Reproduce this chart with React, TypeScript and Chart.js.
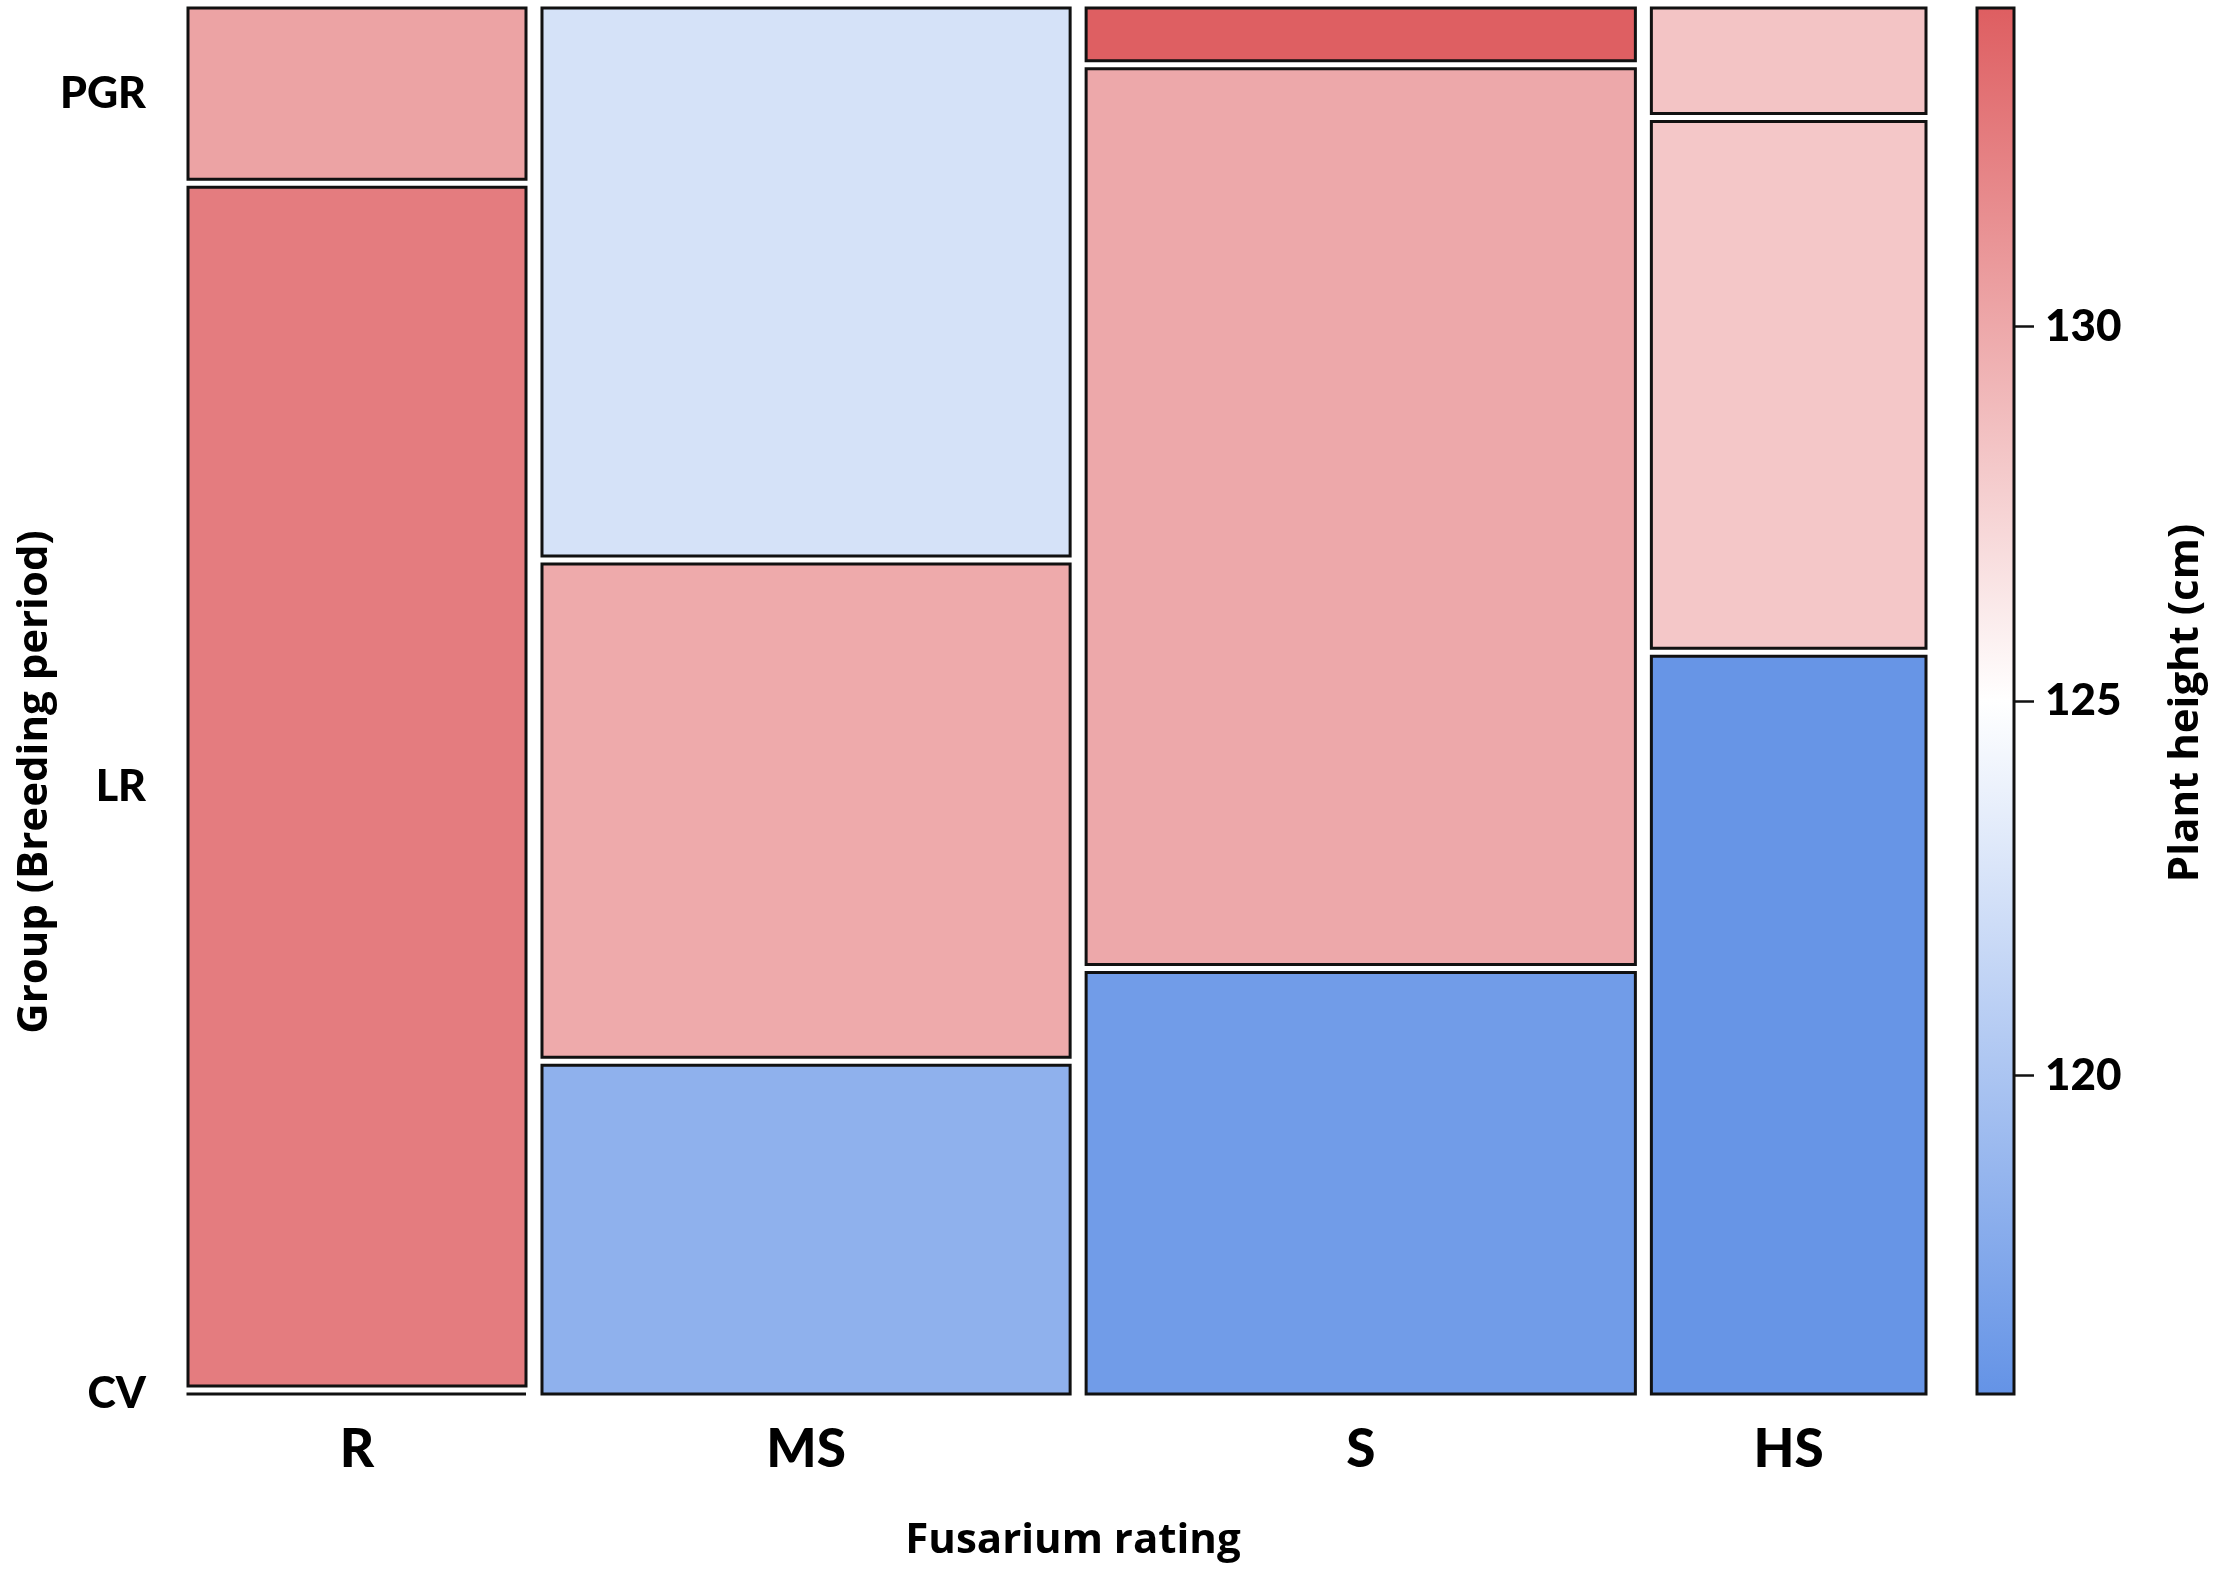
import React, { useEffect, useRef } from 'react';
import { Chart, registerables } from 'chart.js';

Chart.register(...registerables);

// ---------- data ----------
const ratings = ['R', 'MS', 'S', 'HS'];
const groups = ['CV', 'LR', 'PGR']; // bottom to top
const countCV = [0, 6, 8, 7];
const countLR = [14, 9, 17, 5];
const countPGR = [2, 10, 1, 1];
const heightCV = [null, 118.3, 116.5, 115.9];
const heightLR = [132.5, 129.9, 130.0, 128.2];
const heightPGR = [130.3, 122.5, 134.2, 128.4];
const colorbarRange = [115.75, 134.25];
const colorbarMid = 125;
const colorbarTicks = [120, 125, 130];

// ---------- styles ----------
const W = 2217;
const H = 1576;
const XGAP = 0.0092;
const YGAP = 0.00577;
const LOW = [100, 147, 230];
const MID = [255, 255, 255];
const HIGH = [222, 94, 97];
const EDGE = '#111111';
const TICK_FONT = 'Lato';
const TICK_WEIGHT = 900;
const TITLE_FONT = '"Open Sans"';

function mix(a: number[], b: number[], t: number) {
  const c = a.map((v, i) => Math.round(v + (b[i] - v) * t));
  return `rgb(${c[0]},${c[1]},${c[2]})`;
}
function colorFor(v: number | null) {
  if (v == null) return 'rgba(0,0,0,0)';
  const [lo, hi] = colorbarRange;
  if (v <= colorbarMid) return mix(MID, LOW, Math.min(1, (colorbarMid - v) / (colorbarMid - lo)));
  return mix(MID, HIGH, Math.min(1, (v - colorbarMid) / (hi - colorbarMid)));
}

const counts = [countCV, countLR, countPGR];
const heights = [heightCV, heightLR, heightPGR];
const colTotals = ratings.map((_, i) => counts.reduce((s, c) => s + c[i], 0));
const total = colTotals.reduce((a, b) => a + b, 0);

type Tile = { x0: number; x1: number; y0: number; y1: number; color: string };
const tiles: Tile[] = [];
const colCenters: number[] = [];
const firstColCenters: number[] = [];
{
  let x = 0;
  ratings.forEach((_, i) => {
    const w = ((1 - (ratings.length - 1) * XGAP) * colTotals[i]) / total;
    colCenters.push(x + w / 2);
    let y = 0;
    groups.forEach((__, g) => {
      const h = ((1 - (groups.length - 1) * YGAP) * counts[g][i]) / colTotals[i];
      tiles.push({ x0: x, x1: x + w, y0: y, y1: y + h, color: colorFor(heights[g][i]) });
      if (i === 0) firstColCenters.push(y + h / 2);
      y += h + YGAP;
    });
    x += w + XGAP;
  });
}

const datasets = tiles.map((t) => ({
  data: [
    { x: t.x0, y: t.y0 },
    { x: t.x1, y: t.y0 },
    { x: t.x1, y: t.y1 },
    { x: t.x0, y: t.y1 },
    { x: t.x0, y: t.y0 },
  ],
  showLine: true,
  fill: 'shape',
  backgroundColor: t.color,
  borderColor: EDGE,
  borderWidth: 3,
  borderJoinStyle: 'miter',
  borderCapStyle: 'square',
  pointRadius: 0,
  pointHoverRadius: 0,
  tension: 0,
  clip: false,
}));

const CB_WIDTH = 37;

const decorPlugin = {
  id: 'decor',
  afterDraw(chart: any) {
    const ctx = chart.ctx as CanvasRenderingContext2D;
    const cb = chart.scales.cb;
    const x1 = cb.left;
    const x0 = x1 - CB_WIDTH;
    const yTop = cb.getPixelForValue(colorbarRange[1]);
    const yBot = cb.getPixelForValue(colorbarRange[0]);
    const grad = ctx.createLinearGradient(0, yBot, 0, yTop);
    grad.addColorStop(0, mix(LOW, LOW, 0));
    grad.addColorStop((colorbarMid - colorbarRange[0]) / (colorbarRange[1] - colorbarRange[0]), mix(MID, MID, 0));
    grad.addColorStop(1, mix(HIGH, HIGH, 0));
    ctx.save();
    ctx.fillStyle = grad;
    ctx.fillRect(x0, yTop, CB_WIDTH, yBot - yTop);
    ctx.lineWidth = 3;
    ctx.strokeStyle = EDGE;
    ctx.strokeRect(x0, yTop, CB_WIDTH, yBot - yTop);

    // axis titles
    ctx.fillStyle = '#000';
    ctx.font = `bold 42px ${TITLE_FONT}`;
    ctx.textAlign = 'center';
    ctx.textBaseline = 'middle';
    ctx.fillText('Fusarium rating', 1073, 1541);
    ctx.save();
    ctx.translate(35, 782);
    ctx.rotate(-Math.PI / 2);
    ctx.fillText('Group (Breeding period)', 0, 0);
    ctx.restore();
    ctx.save();
    ctx.translate(2186, 703);
    ctx.rotate(-Math.PI / 2);
    ctx.fillText('Plant height (cm)', 0, 0);
    ctx.restore();
    ctx.restore();
  },
};

function noVPad(s: any) {
  s.paddingTop = 0;
  s.paddingBottom = 0;
}

export default function App() {
  const ref = useRef<HTMLCanvasElement>(null);
  useEffect(() => {
    const chart = new Chart(ref.current as HTMLCanvasElement, {
      type: 'scatter',
      data: { datasets: datasets as any },
      options: {
        animation: false,
        responsive: false,
        events: [],
        layout: { padding: { top: 8, left: 0, right: 0, bottom: 0 } },
        plugins: { legend: { display: false }, tooltip: { enabled: false } },
        scales: {
          x: {
            type: 'linear',
            position: 'bottom',
            min: 0,
            max: 1,
            grid: { display: false },
            border: { display: false },
            afterBuildTicks: (s: any) => {
              s.ticks = colCenters.map((v) => ({ value: v }));
            },
            afterFit: (s: any) => {
              s.height = 182;
              s.paddingLeft = 0;
              s.paddingRight = 0;
            },
            ticks: {
              autoSkip: false,
              maxRotation: 0,
              minRotation: 0,
              padding: 16,
              color: '#000',
              font: { family: TICK_FONT, size: 53, weight: TICK_WEIGHT },
              callback: (_v: any, i: number) => ratings[i],
            },
          },
          y: {
            type: 'linear',
            position: 'left',
            min: 0,
            max: 1,
            grid: { display: false },
            border: { display: false },
            afterBuildTicks: (s: any) => {
              s.ticks = firstColCenters.map((v) => ({ value: v }));
            },
            afterFit: (s: any) => {
              s.width = 188;
              noVPad(s);
            },
            ticks: {
              autoSkip: false,
              padding: 34,
              color: '#000',
              font: { family: TICK_FONT, size: 43, weight: TICK_WEIGHT },
              callback: (_v: any, i: number) => groups[i],
            },
          },
          pad: {
            type: 'linear',
            position: 'right',
            weight: 0,
            min: 0,
            max: 1,
            grid: { display: false },
            border: { display: false },
            ticks: { display: false },
            afterFit: (s: any) => {
              s.width = 88;
              noVPad(s);
            },
          },
          cb: {
            type: 'linear',
            position: 'right',
            weight: 1,
            min: colorbarRange[0],
            max: colorbarRange[1],
            grid: {
              display: true,
              drawOnChartArea: false,
              drawTicks: true,
              tickLength: 20,
              tickWidth: 2.5,
              color: EDGE,
            },
            border: { display: false },
            afterBuildTicks: (s: any) => {
              s.ticks = colorbarTicks.map((v) => ({ value: v }));
            },
            afterFit: (s: any) => {
              s.width = W - 2014;
              noVPad(s);
            },
            ticks: {
              padding: 11,
              color: '#000',
              font: { family: TICK_FONT, size: 44, weight: TICK_WEIGHT },
              callback: (v: any) => String(v),
            },
          },
        },
      } as any,
      plugins: [decorPlugin],
    });
    return () => chart.destroy();
  }, []);
  return (
    <div style={{ position: 'fixed', left: 0, top: 0, width: W, height: H, background: '#fff' }}>
      <canvas ref={ref} width={W} height={H} style={{ width: W, height: H, display: 'block' }} />
    </div>
  );
}
